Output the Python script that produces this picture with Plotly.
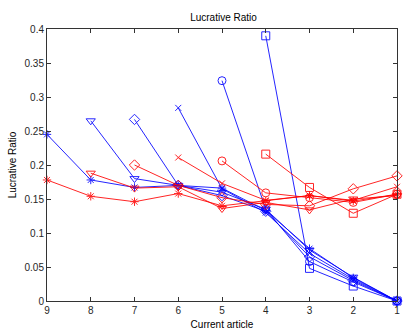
import plotly.graph_objects as go

# Article positions (axis runs from 9 down to 1)
articles = [9, 8, 7, 6, 5, 4, 3, 2, 1]

# Blue series: each starts at a later article and falls to zero at article 1
blue_star = [0.245, 0.178, 0.167, 0.170, 0.166, 0.133, 0.077, 0.034, 0.0]
blue_tri = [0.265, 0.180, 0.170, 0.160, 0.135, 0.075, 0.035, 0.0]
blue_diamond = [0.267, 0.170, 0.155, 0.132, 0.065, 0.030, 0.0]
blue_x = [0.284, 0.165, 0.130, 0.070, 0.032, 0.0]
blue_circle = [0.324, 0.135, 0.058, 0.028, 0.0]
blue_square = [0.390, 0.048, 0.022, 0.0]

# Red series: settle around 0.13-0.18
red_star = [0.178, 0.154, 0.146, 0.158, 0.140, 0.147, 0.155, 0.147, 0.157]
red_tri = [0.188, 0.166, 0.168, 0.136, 0.145, 0.134, 0.150, 0.155]
red_diamond = [0.200, 0.170, 0.152, 0.142, 0.140, 0.165, 0.184]
red_x = [0.211, 0.173, 0.148, 0.155, 0.148, 0.168]
red_circle = [0.206, 0.159, 0.152, 0.145, 0.157]
red_square = [0.216, 0.167, 0.129, 0.157]

series = [
    (blue_star, "asterisk-open", 7, "rgb(0,0,255)"),
    (blue_tri, "triangle-down-open", 8, "rgb(0,0,255)"),
    (blue_diamond, "diamond-open", 8, "rgb(0,0,255)"),
    (blue_x, "x-thin-open", 6, "rgb(0,0,255)"),
    (blue_circle, "circle-open", 8, "rgb(0,0,255)"),
    (blue_square, "square-open", 8, "rgb(0,0,255)"),
    (red_star, "asterisk-open", 7, "rgb(255,0,0)"),
    (red_tri, "triangle-down-open", 8, "rgb(255,0,0)"),
    (red_diamond, "diamond-open", 8, "rgb(255,0,0)"),
    (red_x, "x-thin-open", 6, "rgb(255,0,0)"),
    (red_circle, "circle-open", 8, "rgb(255,0,0)"),
    (red_square, "square-open", 8, "rgb(255,0,0)"),
]

fig = go.Figure()
for values, symbol, size, color in series:
    xs = articles[len(articles) - len(values):]
    fig.add_trace(go.Scatter(
        x=xs, y=values, mode="lines+markers",
        line=dict(color=color, width=1),
        marker=dict(symbol=symbol, size=size, color=color,
                    line=dict(color=color, width=1)),
        opacity=0.85, cliponaxis=False, showlegend=False,
    ))

font = dict(family="Liberation Sans, Arial, sans-serif", size=10, color="#000000")
axis_common = dict(
    showline=True, linecolor="#333333", linewidth=1, mirror="allticks",
    ticks="inside", ticklen=4, tickcolor="#333333", showgrid=False,
    zeroline=False, tickfont=dict(family=font["family"], size=10, color="#262626"),
)

fig.update_layout(
    width=405, height=333,
    margin=dict(l=47, r=5, t=29, b=26),
    paper_bgcolor="white", plot_bgcolor="white",
    font=font,
    title=dict(text="Lucrative Ratio", x=0.5 * (47 + 400) / 405, xanchor="center",
               y=1 - 17 / 333, yanchor="middle", font=dict(size=10)),
    xaxis=dict(range=[9, 1], tickvals=articles, ticktext=[str(a) for a in articles],
               title=dict(text="Current article", standoff=5, font=dict(size=10)),
               **axis_common),
    yaxis=dict(range=[0, 0.4], dtick=0.05, tick0=0,
               title=dict(text="Lucrative Ratio", standoff=6, font=dict(size=10)),
               **axis_common),
)

fig.write_html("out.html")
